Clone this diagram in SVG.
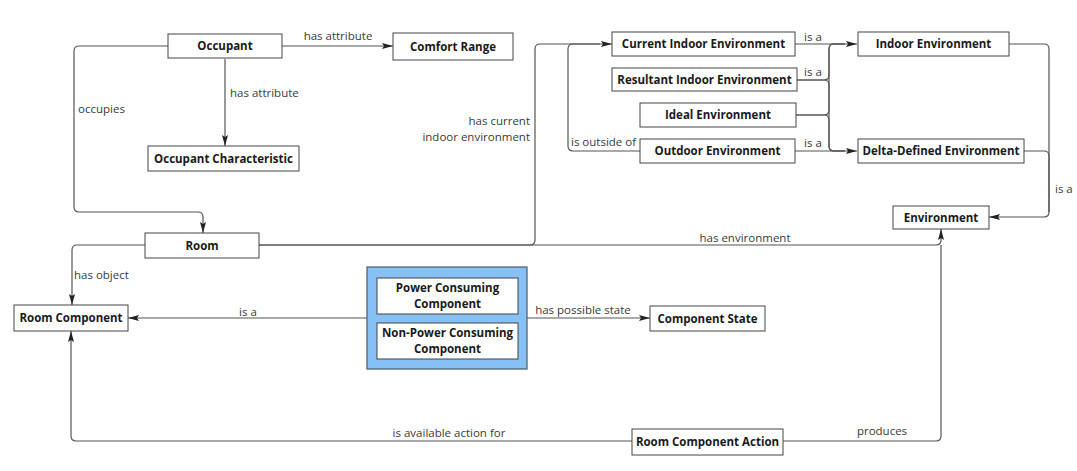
<svg xmlns="http://www.w3.org/2000/svg" width="1077" height="471" viewBox="0 0 1077 471">
<style>
.node rect{fill:#fff;stroke:#444;stroke-width:1}
.node text{font-family:"Open Sans","Liberation Sans",sans-serif;font-weight:bold;font-size:11.5px;fill:#1a1a1a;text-anchor:middle}
.conn path{fill:none;stroke:#555;stroke-width:1.2}
.lbl{font-family:"Open Sans","Liberation Sans",sans-serif;font-size:11.5px;fill:#3a3a3a}
.mid{text-anchor:middle}
.end{text-anchor:end}
</style>
<defs>
<marker id="arr" markerUnits="userSpaceOnUse" markerWidth="12" markerHeight="8" refX="11" refY="4" orient="auto">
<path d="M0,1 L11,4 L0,7 L2,4 z" fill="#222"/>
</marker>
</defs>
<rect width="1077" height="471" fill="#fff"/>

<g id="connectors" class="conn">
<path d="M282,46 H393" marker-end="url(#arr)"/>
<path d="M225,59 V146" marker-end="url(#arr)"/>
<path d="M168,46 H79 Q74,46 74,51 V207 Q74,212 79,212 H198 Q203,212 203,217 V233" marker-end="url(#arr)"/>
<path d="M259,245 H530 Q535,245 535,240 V49 Q535,44 540,44 H612" marker-end="url(#arr)"/>
<path d="M640,151 H573 Q568,151 568,146 V49 Q568,44 573,44 H600"/>
<path d="M795,44 H857" marker-end="url(#arr)"/>
<path d="M797,80 H824 Q829,80 829,75 V49 Q829,44 834,44 H845"/>
<path d="M797,80 H824 Q829,80 829,85 V146 Q829,151 834,151 H845"/>
<path d="M796,115 H824 Q829,115 829,110 V49 Q829,44 834,44 H845"/>
<path d="M796,115 H824 Q829,115 829,120 V146 Q829,151 834,151 H845"/>
<path d="M795,151 H857" marker-end="url(#arr)"/>
<path d="M1009,44 H1044 Q1049,44 1049,49 V212 Q1049,217 1044,217 H989" marker-end="url(#arr)"/>
<path d="M1024,151 H1044 Q1049,151 1049,156 V212"/>
<path d="M259,245 H936 Q941,245 941,240 V229" marker-end="url(#arr)"/>
<path d="M783,441 H936 Q941,441 941,436 V245"/>
<path d="M145,245 H77 Q72,245 72,250 V305" marker-end="url(#arr)"/>
<path d="M632,441 H76 Q71,441 71,436 V331" marker-end="url(#arr)"/>
<path d="M367,318 H128" marker-end="url(#arr)"/>
<path d="M527,318 H650" marker-end="url(#arr)"/>
</g>

<g id="labels">
<text class="lbl mid" x="338" y="40">has attribute</text>
<text class="lbl" x="230" y="97">has attribute</text>
<text class="lbl" x="78" y="113">occupies</text>
<text class="lbl end" x="530" y="125">has current</text>
<text class="lbl end" x="530" y="141">indoor environment</text>
<text class="lbl mid" x="813" y="41">is a</text>
<text class="lbl mid" x="813" y="76">is a</text>
<text class="lbl mid" x="813" y="147">is a</text>
<text class="lbl" x="571" y="146">is outside of</text>
<text class="lbl" x="1055" y="193">is a</text>
<text class="lbl mid" x="745" y="242">has environment</text>
<text class="lbl" x="74" y="279">has object</text>
<text class="lbl mid" x="248" y="316">is a</text>
<text class="lbl mid" x="583" y="314">has possible state</text>
<text class="lbl mid" x="449" y="437">is available action for</text>
<text class="lbl mid" x="882" y="435">produces</text>
</g>

<g id="occupant" class="node"><rect x="168" y="34" width="114" height="24"/><text x="225" y="50">Occupant</text></g>
<g id="comfort-range" class="node"><rect x="393" y="33" width="120" height="27"/><text x="453" y="50.5">Comfort Range</text></g>
<g id="occupant-characteristic" class="node"><rect x="148" y="146" width="151" height="25"/><text x="223.5" y="162.5">Occupant Characteristic</text></g>
<g id="room" class="node"><rect x="145" y="233" width="114" height="25"/><text x="202" y="249.5">Room</text></g>
<g id="room-component" class="node"><rect x="14" y="305" width="114" height="26"/><text x="71" y="322">Room Component</text></g>
<g id="component-group">
<rect x="367" y="267" width="160" height="102" fill="#86c0f4" stroke="#4d5a66" stroke-width="1.2"/>
<g id="power-consuming" class="node"><rect x="377" y="278" width="141" height="36"/><text x="447.5" y="292">Power Consuming</text><text x="447.5" y="308">Component</text></g>
<g id="non-power-consuming" class="node"><rect x="377" y="323" width="141" height="36"/><text x="447.5" y="337">Non-Power Consuming</text><text x="447.5" y="353">Component</text></g>
</g>
<g id="component-state" class="node"><rect x="650" y="306" width="115" height="25"/><text x="707.5" y="322.5">Component State</text></g>
<g id="room-component-action" class="node"><rect x="632" y="429" width="151" height="26"/><text x="707.5" y="446">Room Component Action</text></g>
<g id="current-indoor-environment" class="node"><rect x="612" y="32" width="183" height="24"/><text x="703.5" y="48">Current Indoor Environment</text></g>
<g id="resultant-indoor-environment" class="node"><rect x="612" y="68" width="185" height="23"/><text x="704.5" y="83.5">Resultant Indoor Environment</text></g>
<g id="ideal-environment" class="node"><rect x="640" y="103" width="156" height="24"/><text x="718" y="119">Ideal Environment</text></g>
<g id="outdoor-environment" class="node"><rect x="640" y="139" width="155" height="24"/><text x="717.5" y="155">Outdoor Environment</text></g>
<g id="indoor-environment" class="node"><rect x="858" y="32" width="151" height="24"/><text x="933.5" y="48">Indoor Environment</text></g>
<g id="delta-defined-environment" class="node"><rect x="858" y="139" width="166" height="24"/><text x="941" y="155">Delta-Defined Environment</text></g>
<g id="environment" class="node"><rect x="893" y="206" width="96" height="23"/><text x="941" y="221.5">Environment</text></g>
</svg>
